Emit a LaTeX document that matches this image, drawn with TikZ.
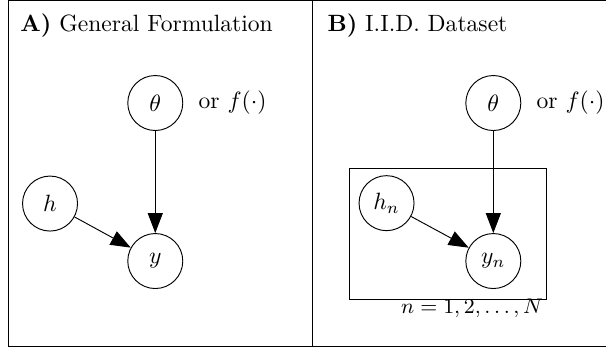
\documentclass[tikz,border=0pt]{standalone}
\usepackage{tikz}
\usetikzlibrary{arrows.meta,positioning}

\begin{document}
\begin{tikzpicture}[x=1.0cm, y=1.0cm,
  var/.style={circle, draw, thin, minimum size=0.82cm, inner sep=0pt},
  plate/.style={draw, thin, minimum width=2.937cm, minimum height=1.953cm},
  dep/.style={-{Triangle[length=8.5pt,width=6.4pt]}, thin}]

\useasboundingbox (0,0) rectangle (9.035,5.219);

% ---- Panel frames ----
\draw[thin] (0.119,0.060) rectangle (9.10,5.212);
\draw[thin] (4.652,0.060) -- (4.652,5.212);

% ---- A) General formulation ----
\node[anchor=base west, inner sep=0] (titleA) at (0.298,4.75){\textbf{A)} General Formulation};

\node[var] (thA) at (2.315,3.683){$\theta$};
\node[right=3pt of thA] (orA){or $f(\cdot)$};
\node[var] (hA) at (0.746,2.184){$h$};
\node[var] (yA) at (2.315,1.327){$y$};

\draw[dep] (thA) -- (yA);
\draw[dep] (hA) -- (yA);

% ---- B) I.I.D. dataset ----
\node[anchor=base west, inner sep=0] (titleB) at (4.876,4.75){\textbf{B)} I.I.D. Dataset};

\node[plate] (plate) at (6.672,1.737){};
\node[anchor=base east, inner sep=1.3pt, yshift=-6pt, font=\fontsize{9.5}{11}\selectfont] (plateLbl)
  at (plate.south east){$n=1,2,\ldots,N$};

\node[var] (thB) at (7.355,3.683){$\theta$};
\node[right=3pt of thB] (orB){or $f(\cdot)$};
\node[var] (hnB) at (5.763,2.190){$h_n$};
\node[var] (ynB) at (7.355,1.327){$y_n$};

\draw[dep] (thB) -- (ynB);
\draw[dep] (hnB) -- (ynB);

\end{tikzpicture}
\end{document}
